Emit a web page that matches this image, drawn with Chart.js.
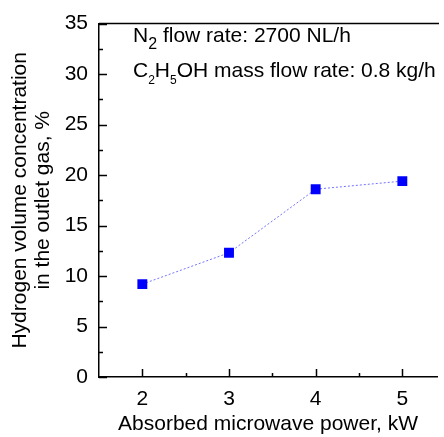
<!DOCTYPE html>
<html>
<head>
<meta charset="utf-8">
<script src="https://cdn.jsdelivr.net/npm/chart.js@4/dist/chart.umd.min.js"></script>
<style>
  html, body { margin: 0; padding: 0; background: #fff; overflow: hidden; }
  #wrap { width: 444px; height: 437px; }
</style>
</head>
<body>
<div id="wrap"><canvas id="c" width="444" height="437"></canvas></div>
<script>
const powerKW = [2, 3, 4, 5]
const h2Percent = [9.2, 12.3, 18.6, 19.4]
const yTicks = [0, 5, 10, 15, 20, 25, 30, 35]
const xTicks = [2, 3, 4, 5]

const FONT = "'Liberation Sans', Arial, sans-serif"

// inside ticks, top frame line and the note text
const framePlugin = {
  id: "frame",
  afterDraw(chart) {
    const ctx = chart.ctx
    const a = chart.chartArea
    const xs = chart.scales.x
    const ys = chart.scales.y
    ctx.save()
    ctx.strokeStyle = "#000"
    ctx.lineWidth = 1.5
    ctx.beginPath()
    ctx.moveTo(a.left, a.top)
    ctx.lineTo(a.right + 2, a.top)
    for (let v = 0; v <= 35; v += 2.5) {
      const y = Math.round(ys.getPixelForValue(v)) + 0.5
      const len = v % 5 === 0 ? 8 : 4
      ctx.moveTo(a.left, y)
      ctx.lineTo(a.left + len, y)
    }
    for (let v = 2; v <= 5.01; v += 0.5) {
      const x = Math.round(xs.getPixelForValue(v)) + 0.5
      const len = Number.isInteger(v) ? 8 : 4
      ctx.moveTo(x, a.bottom)
      ctx.lineTo(x, a.bottom - len)
    }
    ctx.stroke()

    ctx.fillStyle = "#000"
    ctx.textBaseline = "alphabetic"
    const line = (parts, x, y) => {
      for (const [t, size, dy] of parts) {
        ctx.font = size + "px " + FONT
        ctx.fillText(t, x, y + dy)
        x += ctx.measureText(t).width
      }
    }
    line([["N", 21, 0], ["2", 16, 7], [" flow rate: 2700 NL/h", 21, 0]], a.left + 34, 42)
    line([["C", 21, 0], ["2", 12, 7], ["H", 21, 0], ["5", 12, 7], ["OH mass flow rate: 0.8 kg/h", 21, 0]], a.left + 34, 77)
    ctx.restore()
  },
}

new Chart(document.getElementById("c").getContext("2d"), {
  type: "scatter",
  data: {
    datasets: [
      {
        data: powerKW.map((p, i) => ({ x: p, y: h2Percent[i] })),
        showLine: true,
        borderColor: "rgba(70, 70, 255, 0.75)",
        borderWidth: 1,
        borderDash: [2, 2],
        pointStyle: "rect",
        pointRadius: 7,
        pointHoverRadius: 7,
        pointBackgroundColor: "#0000ff",
        pointBorderColor: "#0000ff",
        pointBorderWidth: 0,
      },
    ],
  },
  options: {
    responsive: false,
    animation: false,
    events: [],
    layout: { padding: { top: 20, right: 0, left: 0, bottom: 0 } },
    plugins: { legend: { display: false }, tooltip: { enabled: false } },
    scales: {
      x: {
        type: "linear",
        min: 1.5,
        max: 5.4,
        afterBuildTicks: (s) => { s.ticks = xTicks.map((v) => ({ value: v })) },
        afterFit: (s) => { s.height = 60 },
        grid: { display: false, drawTicks: false },
        border: { display: true, color: "#000", width: 1.5 },
        ticks: { color: "#000", font: { family: FONT, size: 21 }, padding: 10 },
        title: {
          display: true,
          text: "Absorbed microwave power, kW",
          color: "#000",
          font: { family: FONT, size: 21, lineHeight: 1.2 },
          padding: { top: 0, bottom: 0 },
        },
      },
      y: {
        min: 0,
        max: 35,
        afterBuildTicks: (s) => { s.ticks = yTicks.map((v) => ({ value: v })) },
        afterFit: (s) => { s.width = 99 },
        grid: { display: false, drawTicks: false },
        border: { display: true, color: "#000", width: 1.5 },
        ticks: { color: "#000", font: { family: FONT, size: 21 }, padding: 11 },
        title: {
          display: true,
          text: ["Hydrogen volume concentration", "in the outlet gas, %"],
          color: "#000",
          font: { family: FONT, size: 21, lineHeight: 1.1 },
          padding: { top: 9, bottom: 0 },
        },
      },
    },
  },
  plugins: [framePlugin],
})
</script>
</body>
</html>
